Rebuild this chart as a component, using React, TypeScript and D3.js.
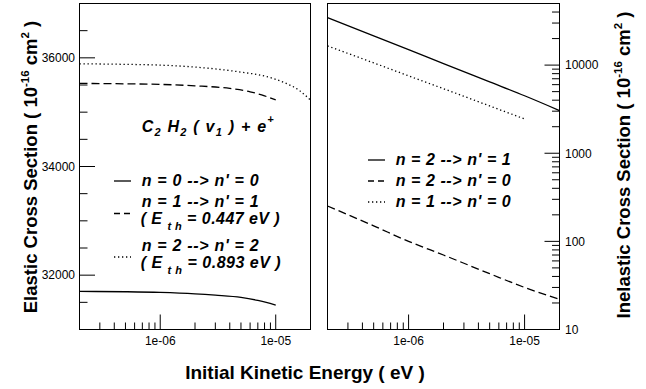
import React from 'react';
import * as d3 from 'd3';

// ---------- data ----------
const xMajorTicks = [1e-6, 1e-5];
const xTickLabels = ['1e-06', '1e-05'];
const xMinorTicks = [3e-7, 4e-7, 5e-7, 6e-7, 7e-7, 8e-7, 9e-7, 2e-6, 3e-6, 4e-6, 5e-6, 6e-6, 7e-6, 8e-6, 9e-6];

const elasticMajorTicks = [32000, 34000, 36000];
const elasticTickLabels = ['32000', '34000', '36000'];
const elasticMinorTicks = [31500, 32500, 33000, 33500, 34500, 35000, 35500, 36500];

const inelasticMajorTicks = [10, 100, 1000, 10000];
const inelasticTickLabels = ['10', '100', '1000', '10000'];

// elastic n=0 -> n'=0
const elN0Energy = [2e-7, 5e-7, 1e-6, 2e-6, 3e-6, 5e-6, 7e-6, 1e-5];
const elN0Value = [31701, 31695, 31683, 31657, 31632, 31591, 31535, 31450];
// elastic n=1 -> n'=1
const elN1Energy = [2e-7, 5e-7, 1e-6, 2e-6, 4e-6, 6e-6, 8e-6, 1e-5];
const elN1Value = [35529, 35522, 35511, 35485, 35437, 35375, 35300, 35225];
// elastic n=2 -> n'=2
const elN2Energy = [2e-7, 5e-7, 1e-6, 2e-6, 5e-6, 8e-6, 1.2e-5, 1.6e-5, 2e-5];
const elN2Value = [35890, 35880, 35866, 35830, 35737, 35664, 35540, 35400, 35222];

// inelastic n=2 -> n'=1
const in21Energy = [2e-7, 5e-7, 1e-6, 2e-6, 5e-6, 1e-5, 2e-5];
const in21Value = [34500, 21500, 15000, 10400, 6450, 4490, 3050];
// inelastic n=2 -> n'=0
const in20Energy = [2e-7, 5e-7, 1e-6, 2e-6, 5e-6, 1e-5, 2e-5];
const in20Value = [252, 150, 100, 70, 43, 30, 22];
// inelastic n=1 -> n'=0
const in10Energy = [2e-7, 5e-7, 1e-6, 2e-6, 5e-6, 1e-5];
const in10Value = [16500, 10600, 7550, 5400, 3440, 2450];

// ---------- layout ----------
const W = 646, H = 389;
const TOP = 3.5, BOT = 329.5;
const L = { x0: 79.5, x1: 310.5 };
const R = { x0: 327.5, x1: 559.5 };
const FONT = '"Liberation Sans", Arial, Helvetica, sans-serif';
const DASH = '8 4';
const DOT = '1.3 2.7';
const LF = 16;
const SUB = 11;

function zip(e: number[], v: number[]) {
  return e.map((d, i) => [d, v[i]] as [number, number]);
}

export default function App() {
  const xL = d3.scaleLog().domain([2e-7, 2e-5]).range([L.x0, L.x1]);
  const xR = d3.scaleLog().domain([2e-7, 2e-5]).range([R.x0, R.x1]);
  const yL = d3.scaleLinear().domain([31000, 37000]).range([BOT, TOP]);
  const yR = d3.scaleLog().domain([10, 50000]).range([BOT, TOP]);

  const lineL = d3.line<[number, number]>().x(d => xL(d[0])).y(d => yL(d[1])).curve(d3.curveMonotoneX);
  const lineR = d3.line<[number, number]>().x(d => xR(d[0])).y(d => yR(d[1])).curve(d3.curveMonotoneX);

  const rMinor: number[] = [];
  [10, 100, 1000, 10000].forEach(dec => {
    for (let k = 2; k <= 9; k++) {
      const v = dec * k;
      if (v < 50000) rMinor.push(v);
    }
  });

  const xAxis = (x: d3.ScaleLogarithmic<number, number>, key: string) => (
    <g key={key}>
      {xMinorTicks.map((t, i) => (
        <line key={'m' + i} x1={x(t)} x2={x(t)} y1={BOT} y2={BOT - 7} stroke="#000" strokeWidth={1} />
      ))}
      {xMajorTicks.map((t, i) => (
        <g key={'M' + i}>
          <line x1={x(t)} x2={x(t)} y1={BOT} y2={BOT - 15} stroke="#000" strokeWidth={1} />
          <text x={x(t)} y={345} textAnchor="middle" fontSize={12} fontFamily={FONT}>{xTickLabels[i]}</text>
        </g>
      ))}
    </g>
  );

  return (
    <svg width={W} height={H} style={{ position: 'absolute', left: 0, top: 0, background: '#fff' }}>
      <rect x={0} y={0} width={W} height={H} fill="#fff" />
      {/* frames */}
      <rect x={L.x0} y={TOP} width={L.x1 - L.x0} height={BOT - TOP} fill="none" stroke="#000" strokeWidth={1} />
      <rect x={R.x0} y={TOP} width={R.x1 - R.x0} height={BOT - TOP} fill="none" stroke="#000" strokeWidth={1} />

      {xAxis(xL, 'xl')}
      {xAxis(xR, 'xr')}

      {/* left y axis */}
      {elasticMinorTicks.map((t, i) => (
        <line key={'lm' + i} x1={L.x0} x2={L.x0 + 8} y1={yL(t)} y2={yL(t)} stroke="#000" strokeWidth={1} />
      ))}
      {elasticMajorTicks.map((t, i) => (
        <g key={'lM' + i}>
          <line x1={L.x0} x2={L.x0 + 15.5} y1={yL(t)} y2={yL(t)} stroke="#000" strokeWidth={1} />
          <text x={75} y={yL(t) + 4.3} textAnchor="end" fontSize={12} fontFamily={FONT}>{elasticTickLabels[i]}</text>
        </g>
      ))}

      {/* right y axis (on right side) */}
      {rMinor.map((t, i) => (
        <line key={'rm' + i} x1={R.x1} x2={R.x1 - 7.5} y1={yR(t)} y2={yR(t)} stroke="#000" strokeWidth={1} />
      ))}
      {inelasticMajorTicks.map((t, i) => (
        <g key={'rM' + i}>
          <line x1={R.x1} x2={R.x1 - 15} y1={yR(t)} y2={yR(t)} stroke="#000" strokeWidth={1} />
          <text x={565} y={yR(t) + 4.3} textAnchor="start" fontSize={12} fontFamily={FONT}>{inelasticTickLabels[i]}</text>
        </g>
      ))}

      {/* left curves */}
      <path d={lineL(zip(elN0Energy, elN0Value)) || ''} fill="none" stroke="#000" strokeWidth={1.3} />
      <path d={lineL(zip(elN1Energy, elN1Value)) || ''} fill="none" stroke="#000" strokeWidth={1.3} strokeDasharray={DASH} />
      <path d={lineL(zip(elN2Energy, elN2Value)) || ''} fill="none" stroke="#000" strokeWidth={1.3} strokeDasharray={DOT} />

      {/* right curves */}
      <path d={lineR(zip(in21Energy, in21Value)) || ''} fill="none" stroke="#000" strokeWidth={1.3} />
      <path d={lineR(zip(in20Energy, in20Value)) || ''} fill="none" stroke="#000" strokeWidth={1.3} strokeDasharray={DASH} />
      <path d={lineR(zip(in10Energy, in10Value)) || ''} fill="none" stroke="#000" strokeWidth={1.3} strokeDasharray={DOT} />

      {/* left legend */}
      <g fontFamily={FONT} fontWeight="bold" fontStyle="italic" fontSize={LF} style={{ whiteSpace: 'pre' }}>
        <text x={141.7} y={132} textLength={132} lengthAdjust="spacing">
          C<tspan fontSize={SUB} dy={4}>2</tspan><tspan dy={-4}> H</tspan><tspan fontSize={SUB} dy={4}>2</tspan>
          <tspan dy={-4}> ( v</tspan><tspan fontSize={SUB} dy={4}>1</tspan><tspan dy={-4}> ) + e</tspan>
          <tspan fontSize={SUB} dy={-9}>+</tspan>
        </text>
        <line x1={114} x2={131} y1={181} y2={181} stroke="#000" strokeWidth={1.3} />
        <text x={141.7} y={186} textLength={117} lengthAdjust="spacing">{"n = 0  -->  n' = 0"}</text>
        <line x1={114} x2={131} y1={213.5} y2={213.5} stroke="#000" strokeWidth={1.3} strokeDasharray="6 4" />
        <text x={141.7} y={207} textLength={117} lengthAdjust="spacing">{"n = 1  -->  n' = 1"}</text>
        <text x={140.7} y={224} textLength={139} lengthAdjust="spacing">
          {"( E "}<tspan fontSize={SUB} dy={6}>{"t h"}</tspan><tspan dy={-6}>{"  = 0.447 eV )"}</tspan>
        </text>
        <line x1={114} x2={131} y1={257} y2={257} stroke="#000" strokeWidth={1.3} strokeDasharray={DOT} />
        <text x={141.7} y={251} textLength={117} lengthAdjust="spacing">{"n = 2  -->  n' = 2"}</text>
        <text x={140.7} y={268} textLength={140} lengthAdjust="spacing">
          {"( E "}<tspan fontSize={SUB} dy={6}>{"t h"}</tspan><tspan dy={-6}>{"  = 0.893 eV )"}</tspan>
        </text>
      </g>

      {/* right legend */}
      <g fontFamily={FONT} fontWeight="bold" fontStyle="italic" fontSize={LF} style={{ whiteSpace: 'pre' }}>
        <line x1={368} x2={385} y1={160} y2={160} stroke="#000" strokeWidth={1.3} />
        <text x={395.7} y={165} textLength={115} lengthAdjust="spacing">{"n = 2  -->  n' = 1"}</text>
        <line x1={368} x2={385} y1={181} y2={181} stroke="#000" strokeWidth={1.3} strokeDasharray="6 4" />
        <text x={395.7} y={186} textLength={115} lengthAdjust="spacing">{"n = 2  -->  n' = 0"}</text>
        <line x1={368} x2={385} y1={202} y2={202} stroke="#000" strokeWidth={1.3} strokeDasharray={DOT} />
        <text x={395.7} y={207} textLength={115} lengthAdjust="spacing">{"n = 1  -->  n' = 0"}</text>
      </g>

      {/* axis titles */}
      <text x={305} y={379} textAnchor="middle" fontFamily={FONT} fontWeight="bold" fontSize={19}>
        Initial Kinetic Energy ( eV )
      </text>
      <g transform="translate(36.5,167) rotate(-90)">
        <text x={0} y={0} textAnchor="middle" fontFamily={FONT} fontWeight="bold" fontSize={18.5} style={{ whiteSpace: 'pre' }}>
          {"Elastic Cross Section ( 10"}<tspan fontSize={11.5} dy={-8}>-16</tspan><tspan dy={8}>{" cm"}</tspan>
          <tspan fontSize={11.5} dy={-8}>2</tspan><tspan dy={8}>{" )"}</tspan>
        </text>
      </g>
      <g transform="translate(629.5,165) rotate(-90)">
        <text x={0} y={0} textAnchor="middle" fontFamily={FONT} fontWeight="bold" fontSize={18.5} style={{ whiteSpace: 'pre' }}>
          {"Inelastic Cross Section ( 10"}<tspan fontSize={11.5} dy={-8}>-16</tspan><tspan dy={8}>{" cm"}</tspan>
          <tspan fontSize={11.5} dy={-8}>2</tspan><tspan dy={8}>{" )"}</tspan>
        </text>
      </g>
    </svg>
  );
}
